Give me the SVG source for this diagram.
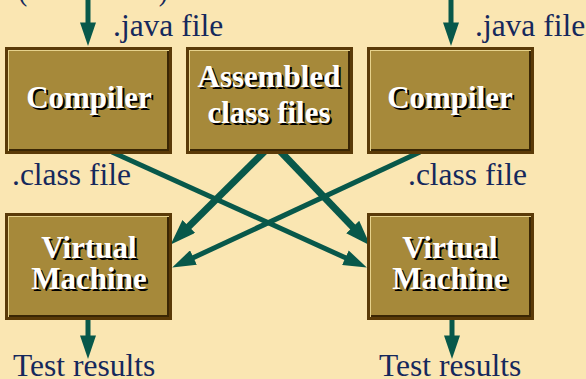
<svg xmlns="http://www.w3.org/2000/svg" width="586" height="379" viewBox="0 0 586 379">
  <defs>
    <style>
      .lbl { font-family: "Liberation Serif", "Times New Roman", serif; font-size: 31.5px; fill: #15285c; }
      .bt { font-family: "Liberation Serif", "Times New Roman", serif; font-size: 31px; font-weight: bold; text-anchor: middle; }
      .sh { fill: #000000; }
      .fg { fill: #ffffff; }
      .outer { fill: #5a3a08; }
      .hi { fill: #e6d28c; }
      .lo { fill: #3a2604; }
      .face { fill: #a6893a; }
      .conn { stroke: #08584a; fill: none; }
      .thin { stroke-width: 5; }
      .thick { stroke-width: 7; }
    </style>
    <marker id="ah" markerUnits="userSpaceOnUse" markerWidth="24" markerHeight="16" viewBox="0 0 22 15" refX="8" refY="7.5" orient="auto">
      <path d="M0,0 L22,7.5 L0,15 Z" fill="#08584a"/>
    </marker>
    <marker id="ahb" markerUnits="userSpaceOnUse" markerWidth="26" markerHeight="18" viewBox="0 0 24 17" refX="9" refY="8.5" orient="auto">
      <path d="M0,0 L24,8.5 L0,17 Z" fill="#08584a"/>
    </marker>
    <g id="box">
      <rect class="outer" x="0" y="0" width="167" height="107"/>
      <rect class="hi" x="3" y="3" width="161" height="101"/>
      <rect class="lo" x="4" y="4" width="160" height="100"/>
      <rect class="face" x="4" y="4" width="158" height="98"/>
    </g>
  </defs>

  <rect x="0" y="0" width="586" height="379" fill="#fae6b2"/>

  <text class="lbl" x="18" y="0" textLength="150" lengthAdjust="spacingAndGlyphs">(source code)</text>

  <g id="connectors">
    <line class="conn thin" x1="88" y1="0" x2="88" y2="31" marker-end="url(#ah)"/>
    <line class="conn thin" x1="451" y1="0" x2="451" y2="31" marker-end="url(#ah)"/>
    <line class="conn thin" x1="88" y1="320" x2="88" y2="344" marker-end="url(#ah)"/>
    <line class="conn thin" x1="452" y1="320" x2="452" y2="344" marker-end="url(#ah)"/>
    <line class="conn thin" x1="112" y1="152" x2="353.2" y2="261.3" marker-end="url(#ah)"/>
    <line class="conn thin" x1="420" y1="152" x2="185.7" y2="261.2" marker-end="url(#ah)"/>
    <line class="conn thick" x1="265" y1="151" x2="182" y2="233.2" marker-end="url(#ahb)"/>
    <line class="conn thick" x1="280" y1="151" x2="359.3" y2="233.9" marker-end="url(#ahb)"/>
  </g>

  <g id="compiler-left">
    <use href="#box" x="5" y="47"/>
    <text class="bt sh" x="91" y="110">Compiler</text>
    <text class="bt fg" x="89" y="108">Compiler</text>
  </g>

  <g id="assembled">
    <use href="#box" x="186" y="47"/>
    <text class="bt sh" x="271" y="89">Assembled</text>
    <text class="bt fg" x="269" y="87">Assembled</text>
    <text class="bt sh" x="271" y="125">class files</text>
    <text class="bt fg" x="269" y="123">class files</text>
  </g>

  <g id="compiler-right">
    <use href="#box" x="367" y="47"/>
    <text class="bt sh" x="452" y="110">Compiler</text>
    <text class="bt fg" x="450" y="108">Compiler</text>
  </g>

  <g id="vm-left">
    <use href="#box" x="5" y="213"/>
    <text class="bt sh" x="91" y="260">Virtual</text>
    <text class="bt fg" x="89" y="258">Virtual</text>
    <text class="bt sh" x="91" y="291">Machine</text>
    <text class="bt fg" x="89" y="289">Machine</text>
  </g>

  <g id="vm-right">
    <use href="#box" x="367" y="213"/>
    <text class="bt sh" x="452" y="260">Virtual</text>
    <text class="bt fg" x="450" y="258">Virtual</text>
    <text class="bt sh" x="452" y="291">Machine</text>
    <text class="bt fg" x="450" y="289">Machine</text>
  </g>

  <g id="labels">
    <text class="lbl" x="113" y="36">.java file</text>
    <text class="lbl" x="475" y="36">.java file</text>
    <text class="lbl" x="12" y="185">.class file</text>
    <text class="lbl" x="408" y="185">.class file</text>
    <text class="lbl" x="13" y="376">Test results</text>
    <text class="lbl" x="379" y="376">Test results</text>
  </g>
</svg>
